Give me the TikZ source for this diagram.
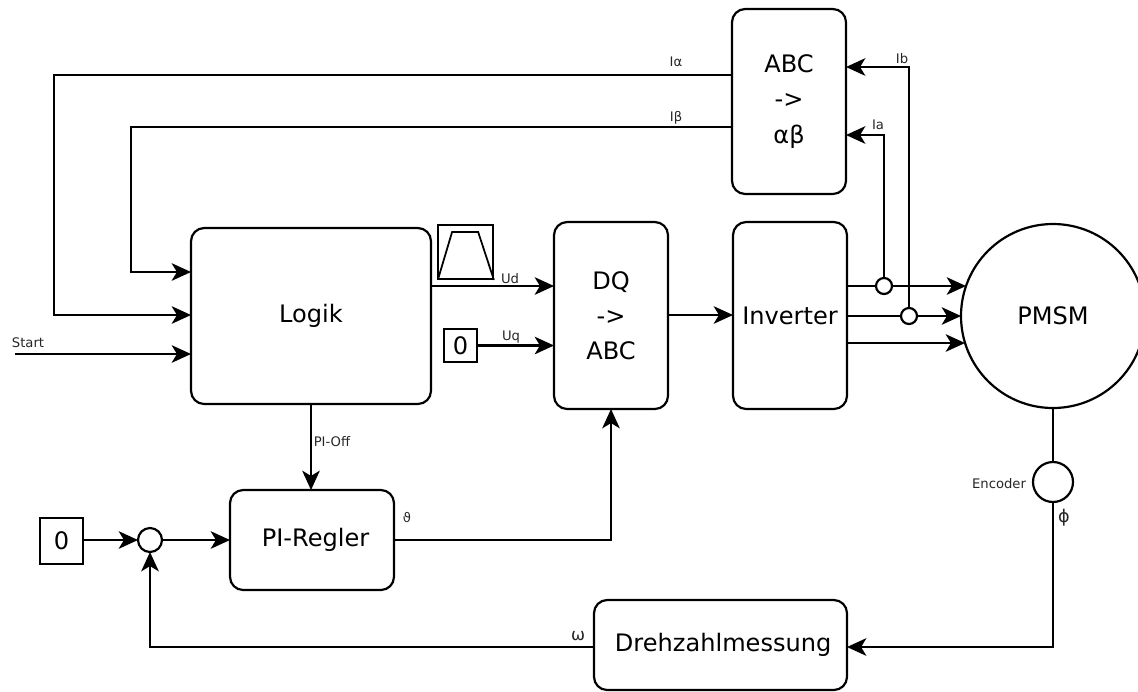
\documentclass[tikz,border=0pt]{standalone}
\usepackage{fontspec}
\setmainfont{DejaVu Sans}
\usetikzlibrary{arrows.meta,calc}

\tikzset{
  blockbox/.style={draw, rounded corners=7.5pt, inner sep=0pt, outer sep=0pt, align=center, font=\fontsize{13.7}{20}\selectfont},
  valuebox/.style={draw, inner sep=0pt, outer sep=0pt, font=\fontsize{13.7}{16}\selectfont},
  tapcircle/.style={draw, circle, inner sep=0pt, outer sep=0pt, fill=white},
  smalllabel/.style={inner sep=0pt, text=black!85, font=\fontsize{7.5}{8}\selectfont},
  sig/.style={-{Stealth[length=11pt,width=10pt,inset=3pt]}},
}

\begin{document}
\begin{tikzpicture}[x=0.02cm, y=-0.02cm, line width=1.25pt]
  \useasboundingbox (0,0) rectangle (1138,691);

  % Bloecke
  \node[blockbox, minimum width=114*0.02cm, minimum height=185*0.02cm] (abc) at (789,101.5) {ABC\\->\\αβ};
  \node[blockbox, minimum width=240*0.02cm, minimum height=176*0.02cm] (logik) at (311,316) {Logik};
  \node[blockbox, minimum width=114*0.02cm, minimum height=187*0.02cm] (dq) at (611,315.5) {DQ\\->\\ABC};
  \node[blockbox, minimum width=114*0.02cm, minimum height=187*0.02cm] (inv) at (790,315.5) {Inverter};
  \node[blockbox, minimum width=164*0.02cm, minimum height=100*0.02cm] (pi) at (312,540) {\hspace{4pt}PI-Regler};
  \node[blockbox, minimum width=253*0.02cm, minimum height=90*0.02cm] (drehzahl) at (720.5,645) {\hspace{3pt}Drehzahlmessung};
  \node[draw, circle, inner sep=0pt, outer sep=0pt, minimum size=184*0.02cm, font=\fontsize{13.7}{16}\selectfont] (pmsm) at (1053,316) {PMSM};

  % Quellen
  \node[valuebox, minimum width=43*0.02cm, minimum height=46*0.02cm] (nullpi) at (61.5,541) {0};
  \node[valuebox, minimum width=33*0.02cm, minimum height=33*0.02cm] (nulluq) at (460.5,345.5) {0};
  \node[tapcircle, minimum size=24*0.02cm] (sum) at (150,540) {};
  \node[tapcircle, minimum size=40*0.02cm] (enc) at (1053,482) {};
  \node[tapcircle, minimum size=16*0.02cm] (tapa) at (884,286) {};
  \node[tapcircle, minimum size=16*0.02cm] (tapb) at (909,316) {};

  % Rampe
  \node[draw, line width=1pt, minimum width=55*0.02cm, minimum height=54*0.02cm, inner sep=0pt] (rampe) at (465.5,252) {};
  \draw[line width=1pt] (rampe.south west) ++(1,-1) -- ++(14,-47) -- ++(26,0) -- (rampe.south east);

  % Hilfspunkte
  \coordinate (start) at (15,354);
  \coordinate (pmsma) at (966,286);
  \coordinate (pmsmb) at (961,316);
  \coordinate (pmsmc) at (965,343);

  % Rueckfuehrung der Stroeme
  \draw[sig] (abc.west |- 0,75) -| (54,315) -- (logik.west |- 0,315);
  \draw[sig] (abc.west |- 0,127) -| (131,272) -- (logik.west |- 0,272);
  \draw[sig] (start) -- (logik.west |- start);
  \draw[sig] (tapa) |- (abc.east |- 0,135);
  \draw[sig] (tapb) |- (abc.east |- 0,67);

  % Vorwaertszweig
  \draw[sig] (logik.east |- 0,286) -- (dq.west |- 0,286);
  \draw[sig] (nulluq) -- (dq.west |- nulluq);
  \draw[sig] (dq.east |- 0,315) -- (inv.west |- 0,315);
  \draw (inv.east |- tapa) -- (tapa);
  \draw (inv.east |- tapb) -- (tapb);
  \draw[sig] (tapa) -- (pmsma);
  \draw[sig] (tapb) -- (pmsmb);
  \draw[sig] (inv.east |- pmsmc) -- (pmsmc);

  % Regler
  \draw[sig] (logik.south) -- (logik.south |- pi.north);
  \draw[sig] (nullpi.east |- sum) -- (sum);
  \draw[sig] (sum) -- (pi);
  \draw[sig] (pi) -| (dq.south);

  % Drehzahl
  \draw (pmsm) -- (enc);
  \draw[sig] (enc) |- (drehzahl.east |- 0,647);
  \draw[sig] (drehzahl.west |- 0,647) -| (sum);

  % Beschriftung
  \node[smalllabel] (lia) at (676,62) {Iα};
  \node[smalllabel] (lib) at (676,118) {Iβ};
  \node[smalllabel] (lstart) at (28,343) {Start};
  \node[smalllabel] (lud) at (510,279) {Ud};
  \node[smalllabel] (luq) at (511,337) {Uq};
  \node[smalllabel] (lia2) at (878,125) {Ia};
  \node[smalllabel] (lib2) at (902,59) {Ib};
  \node[smalllabel] (loff) at (332,442) {PI-Off};
  \node[smalllabel] (ltheta) at (407,518) {ϑ};
  \node[smalllabel] (lenc) at (999,484) {Encoder};
  \node[smalllabel, font=\fontsize{10}{10}\selectfont] (lphi) at (1064,518) {ϕ};
  \node[smalllabel, font=\fontsize{9.5}{10}\selectfont] (lomega) at (578,636) {ω};
\end{tikzpicture}
\end{document}
